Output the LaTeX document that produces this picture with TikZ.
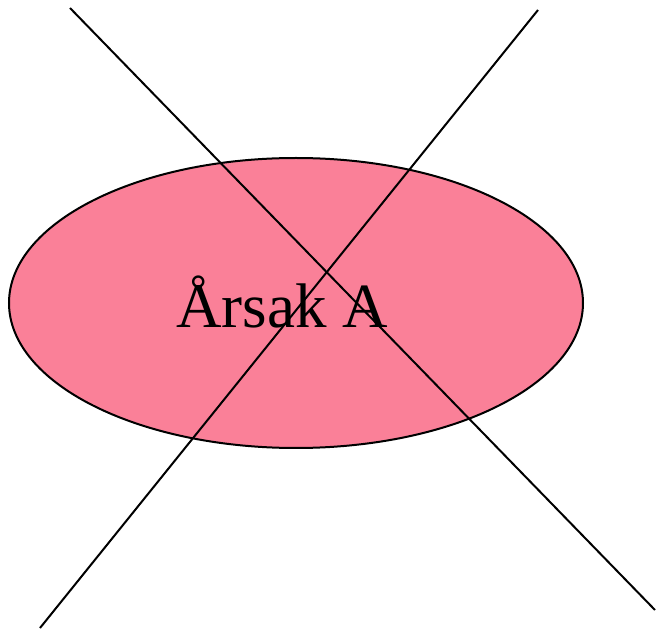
\documentclass[tikz,border=0pt]{standalone}
\usepackage{fontspec}
\setmainfont{Liberation Serif}
\usetikzlibrary{shapes.geometric}
\definecolor{pinkfill}{RGB}{250,128,152}
\tikzset{
  ell/.style={draw=black, line width=2pt, fill=pinkfill},
  xline/.style={draw=black, line width=2pt},
  lbl/.style={font=\fontsize{63}{72}\selectfont, inner sep=0pt}
}
\begin{document}
\begin{tikzpicture}[x=1pt,y=-1pt]
\useasboundingbox (0,0) rectangle (657,631);
\draw[ell] (296,303) ellipse [x radius=287, y radius=145];
\node[lbl, anchor=base] (t) at (282,328) {Årsak A};
\coordinate (a1) at (70,8);
\coordinate (a2) at (655,610);
\coordinate (b1) at (538,10);
\coordinate (b2) at (40,628);
\draw[xline] (a1) -- (a2);
\draw[xline] (b1) -- (b2);
\end{tikzpicture}
\end{document}
